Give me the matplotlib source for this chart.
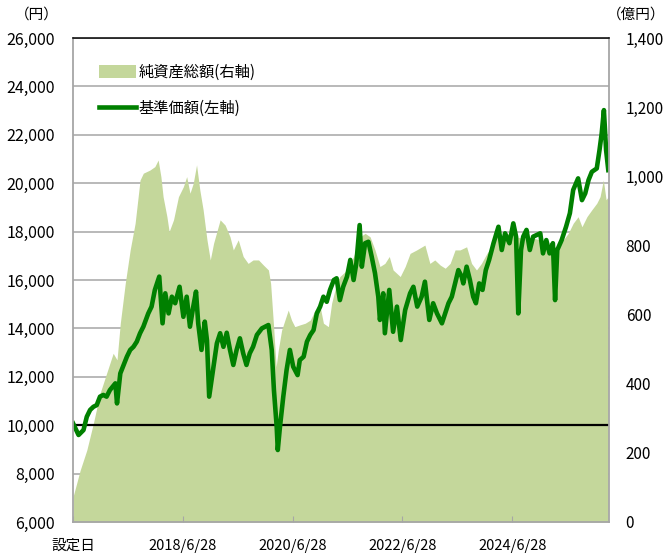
import matplotlib
matplotlib.use("Agg")
import matplotlib.pyplot as plt
from matplotlib.patches import Patch
from matplotlib.lines import Line2D
from datetime import datetime, timedelta

plt.rcParams['font.family'] = ['Noto Sans CJK JP', 'DejaVu Sans']

# 基準価額 (円) : time as decimal year
nav_t = [2016.49, 2016.59, 2016.68, 2016.74, 2016.80, 2016.86, 2016.92, 2016.98, 2017.04, 2017.10,
         2017.16, 2017.26, 2017.29, 2017.35, 2017.41, 2017.47, 2017.53, 2017.59, 2017.65, 2017.71,
         2017.77, 2017.86, 2017.92, 2017.98, 2018.06, 2018.12, 2018.17, 2018.23, 2018.29, 2018.35,
         2018.43, 2018.50, 2018.56, 2018.62, 2018.68, 2018.73, 2018.77, 2018.83, 2018.89, 2018.93,
         2018.97, 2019.05, 2019.11, 2019.17, 2019.23, 2019.29, 2019.35, 2019.41, 2019.47, 2019.53,
         2019.59, 2019.65, 2019.71, 2019.77, 2019.84, 2019.93, 2020.05, 2020.11, 2020.15, 2020.20,
         2020.22, 2020.26, 2020.32, 2020.38, 2020.44, 2020.50, 2020.58, 2020.62, 2020.69, 2020.75,
         2020.81, 2020.87, 2020.93, 2020.99, 2021.05, 2021.11, 2021.17, 2021.24, 2021.29, 2021.35,
         2021.41, 2021.48, 2021.54, 2021.60, 2021.65, 2021.71, 2021.75, 2021.81, 2021.87, 2021.93,
         2021.99, 2022.05, 2022.08, 2022.14, 2022.17, 2022.25, 2022.32, 2022.39, 2022.46, 2022.54,
         2022.63, 2022.69, 2022.76, 2022.84, 2022.90, 2022.98, 2023.05, 2023.12, 2023.21, 2023.27,
         2023.33, 2023.39, 2023.45, 2023.51, 2023.57, 2023.60, 2023.66, 2023.72, 2023.78, 2023.83,
         2023.89, 2023.95, 2024.01, 2024.07, 2024.15, 2024.24, 2024.30, 2024.36, 2024.44, 2024.51,
         2024.56, 2024.60, 2024.65, 2024.69, 2024.75, 2024.81, 2024.87, 2025.00, 2025.05, 2025.11,
         2025.17, 2025.23, 2025.27, 2025.31, 2025.39, 2025.47, 2025.54, 2025.60, 2025.69, 2025.76,
         2025.82, 2025.88, 2025.94, 2026.03, 2026.08, 2026.12, 2026.16, 2026.20, 2026.24]
nav = [10078, 9595, 9800, 10350, 10630, 10760, 10830, 11180, 11250, 11180,
       11450, 11730, 10900, 12140, 12490, 12830, 13110, 13240, 13450, 13800,
       14070, 14620, 14900, 15590, 16140, 14210, 15450, 14620, 15310, 15040,
       15720, 14480, 15310, 14070, 14900, 15520, 14210, 13110, 14280, 13500,
       11180, 12420, 13380, 13800, 13240, 13820, 13110, 12490, 13110, 13590,
       12970, 12490, 12970, 13240, 13730, 14000, 14140, 13110, 11450, 9940,
       8975, 9940, 11180, 12280, 13110, 12420, 12070, 12690, 12830, 13450,
       13730, 13930, 14620, 14900, 15310, 15100, 15590, 16000, 16070, 15170,
       15720, 16140, 16830, 16000, 16690, 18270, 16550, 17520, 17580, 16960,
       16280, 15310, 14350, 15450, 13800, 15590, 13860, 14900, 13520, 14760,
       15450, 15720, 14900, 15310, 15930, 14350, 15040, 14620, 14210, 14620,
       15040, 15310, 15860, 16410, 16140, 15860, 16550, 16000, 15310, 15040,
       15860, 15590, 16410, 16830, 17520, 18200, 17240, 17930, 17520, 18340,
       17790, 14620, 17240, 17790, 18070, 17240, 17790, 17930, 17100, 17650,
       17100, 17520, 15170, 17240, 17650, 18200, 18760, 19720, 20200, 19300,
       19580, 20130, 20470, 20610, 21370, 22060, 23020, 21370, 20540]

# 純資産総額 (億円)
aum_t = [2016.49, 2016.62, 2016.74, 2016.86, 2016.98, 2017.10, 2017.22, 2017.29, 2017.35, 2017.44,
         2017.53, 2017.62, 2017.71, 2017.77, 2017.89, 2017.98, 2018.04, 2018.09, 2018.13, 2018.20,
         2018.24, 2018.32, 2018.41, 2018.50, 2018.56, 2018.62, 2018.68, 2018.74, 2018.80, 2018.86,
         2018.93, 2018.99, 2019.05, 2019.17, 2019.26, 2019.35, 2019.41, 2019.50, 2019.59, 2019.68,
         2019.77, 2019.87, 2019.96, 2020.05, 2020.09, 2020.14, 2020.19, 2020.23, 2020.29, 2020.35,
         2020.41, 2020.47, 2020.53, 2020.62, 2020.72, 2020.81, 2020.90, 2020.99, 2021.05, 2021.14,
         2021.20, 2021.29, 2021.35, 2021.48, 2021.60, 2021.72, 2021.81, 2021.90, 2021.99, 2022.08,
         2022.17, 2022.25, 2022.32, 2022.45, 2022.54, 2022.63, 2022.75, 2022.90, 2022.99, 2023.08,
         2023.18, 2023.27, 2023.36, 2023.45, 2023.54, 2023.66, 2023.75, 2023.84, 2023.93, 2024.03,
         2024.12, 2024.21, 2024.30, 2024.39, 2024.48, 2024.57, 2024.66, 2024.75, 2024.87, 2025.00,
         2025.12, 2025.24, 2025.33, 2025.42, 2025.51, 2025.60, 2025.69, 2025.76, 2025.85, 2025.94,
         2026.03, 2026.09, 2026.15, 2026.20, 2026.24]
aum = [73, 150, 208, 286, 372, 430, 488, 469, 575, 690,
       787, 864, 989, 1009, 1018, 1028, 1047, 999, 941, 883,
       840, 874, 941, 970, 999, 951, 980, 1033, 960, 903,
       816, 758, 806, 874, 859, 825, 787, 816, 768, 748,
       758, 758, 743, 729, 690, 575, 449, 498, 555, 584,
       613, 584, 565, 570, 575, 584, 613, 623, 575, 565,
       633, 690, 710, 729, 768, 825, 835, 825, 787, 739,
       748, 768, 729, 710, 739, 777, 787, 801, 748, 758,
       743, 734, 748, 787, 787, 796, 748, 729, 748, 777,
       796, 825, 811, 830, 845, 825, 821, 825, 821, 816,
       806, 796, 796, 816, 835, 864, 883, 854, 883, 903,
       922, 941, 989, 932, 941]

x_ticks = ['2016-06-28', '2018-06-28', '2020-06-28', '2022-06-28', '2024-06-28']
x_labels = ['設定日', '2018/6/28', '2020/6/28', '2022/6/28', '2024/6/28']


def to_date(t):
    y = int(t)
    days = 366 if y % 4 == 0 else 365
    return datetime(y, 1, 1) + timedelta(days=(t - y) * days)


nav_d = [to_date(t) for t in nav_t]
aum_d = [to_date(t) for t in aum_t]

fig = plt.figure(figsize=(6.66, 5.55), dpi=100)
rect = [73 / 666, 1 - 522 / 555, (609 - 73) / 666, (522 - 38) / 555]

ax = fig.add_axes(rect)
ax_bg = fig.add_axes(rect, sharex=ax, sharey=ax)
ax2 = fig.add_axes(rect, sharex=ax)
ax_bg.set_zorder(1)
ax2.set_zorder(2)
ax.set_zorder(3)
ax.patch.set_visible(False)
ax2.patch.set_visible(False)

grid_c = '#A6A6A6'
# background grid, kept under the area
for v in range(8000, 26001, 2000):
    ax_bg.axhline(v, color=grid_c, lw=1.1)
for s in ax_bg.spines.values():
    s.set_visible(False)
ax_bg.tick_params(left=False, bottom=False, labelleft=False, labelbottom=False)

# net assets area (right axis)
ax2.fill_between(aum_d, aum, 0, color='#C4D79B', lw=0)
ax2.set_ylim(0, 1400)
ax2.yaxis.tick_right()
ax2.set_yticks(range(0, 1401, 200))
ax2.set_yticklabels([f'{v:,}' for v in range(0, 1401, 200)])
ax2.tick_params(axis='y', length=0, pad=12, labelsize=11)
ax2.tick_params(axis='x', bottom=False, labelbottom=False)
for s in ax2.spines.values():
    s.set_visible(False)

# NAV line (left axis)
ax.axhline(10000, color='black', lw=1.6)
ax.plot(nav_d, nav, color='#008000', lw=3.3, solid_joinstyle='round')
ax.set_ylim(6000, 26000)
ax.set_yticks(range(6000, 26001, 2000))
ax.set_yticklabels([f'{v:,}' for v in range(6000, 26001, 2000)])
ax.tick_params(axis='y', length=0, pad=13, labelsize=11.5)

ax.set_xlim(to_date(2016.49), to_date(2026.253))
ax.set_xticks([datetime.strptime(d, '%Y-%m-%d') for d in x_ticks])
ax.set_xticklabels(x_labels)
ax.tick_params(axis='x', direction='in', length=4, color=grid_c, labelsize=10.5, pad=12)

for side in ['left', 'right', 'bottom']:
    ax.spines[side].set_color(grid_c)
    ax.spines[side].set_linewidth(1.3)
ax.spines['top'].set_color('black')
ax.spines['top'].set_linewidth(1.1)

fig.text(37 / 666, 1 - 15 / 555, '（円）', ha='center', va='center', fontsize=10.5)
fig.text(636 / 666, 1 - 15 / 555, '（億円）', ha='center', va='center', fontsize=10.5)

handles = [Patch(facecolor='#C4D79B', edgecolor='none'),
           Line2D([0], [0], color='#008000', lw=3.3)]
ax.legend(handles, ['純資産総額(右軸)', '基準価額(左軸)'], loc='upper left',
          bbox_to_anchor=(99 / 666, 1 - 64 / 555), bbox_transform=fig.transFigure,
          frameon=False, fontsize=11, handlelength=2.4, handleheight=0.9,
          handletextpad=0.2, labelspacing=1.2, borderpad=0, borderaxespad=0)

fig.savefig('out.png', dpi=100)
plt.close(fig)
